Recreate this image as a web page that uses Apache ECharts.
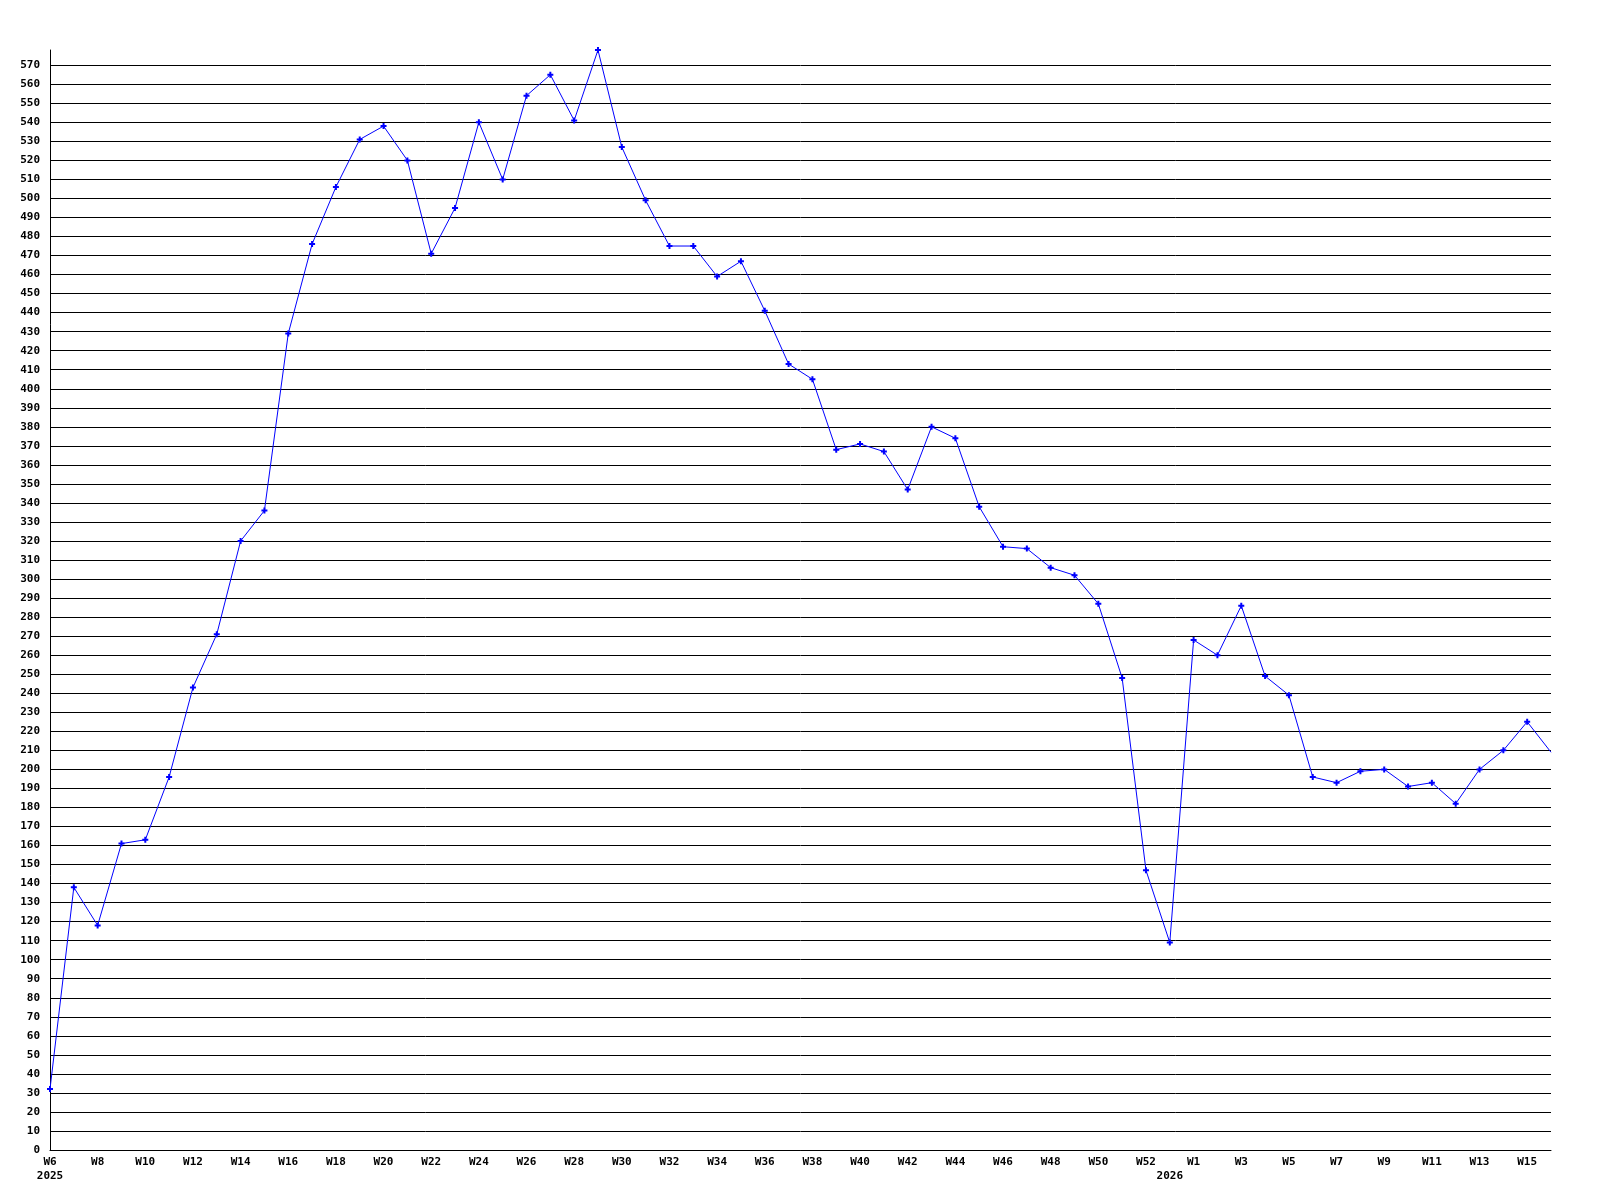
<!DOCTYPE html>
<html>
<head>
<meta charset="utf-8">
<script src="https://cdn.jsdelivr.net/npm/echarts@6/dist/echarts.min.js"></script>
<style>
html,body{margin:0;padding:0;background:#fff;}
#chart{width:1600px;height:1200px;}
</style>
</head>
<body>
<div id="chart"></div>
<script>
// Week categories (2025 then 2026)
const weeks2025 = ['W6','W7','W8','W9','W10','W11','W12','W13','W14','W15','W16','W17','W18','W19','W20','W21','W22','W23','W24','W25','W26','W27','W28','W29','W30','W31','W32','W33','W34','W35','W36','W37','W38','W39','W40','W41','W42','W43','W44','W45','W46','W47','W48','W49','W50','W51','W52','W53'];
const weeks2026 = ['W1','W2','W3','W4','W5','W6','W7','W8','W9','W10','W11','W12','W13','W14','W15','W16'];

// Values
const values2025 = [32,138,118,161,163,196,243,271,320,336,429,476,506,531,538,520,471,495,540,510,554,565,541,578,527,499,475,475,459,467,441,413,405,368,371,367,347,380,374,338,317,316,306,302,287,248,147,109];
const values2026 = [268,260,286,249,239,196,193,199,200,191,193,182,200,210,225,209];

// Tick label rules
const labelEvery = 2;            // week label on every second category
const yearLabels = {0: '2025', 47: '2026'};  // year under these category indices
const yMax = 578;
const yInterval = 10;

const categories = weeks2025.concat(weeks2026);
const values = values2025.concat(values2026);
const lastIdx = values.length - 1;

const font = {fontFamily: 'DejaVu Sans Mono', fontWeight: 'bold', fontSize: 11, color: '#000'};

const chart = echarts.init(document.getElementById('chart'), null, {renderer: 'canvas'});
chart.setOption({
  animation: false,
  backgroundColor: '#ffffff',
  grid: {left: 50, right: 49, top: 50, bottom: 50, containLabel: false},
  xAxis: {
    type: 'category',
    data: categories,
    boundaryGap: false,
    axisLine: {show: true, lineStyle: {color: '#000', width: 1}},
    axisTick: {show: false},
    splitLine: {show: false},
    axisLabel: Object.assign({}, font, {
      interval: 0,
      margin: 5,
      lineHeight: 14,
      align: 'center',
      formatter: function (v, i) {
        const wk = (i % labelEvery === 0) ? v : '';
        const yr = yearLabels[i];
        if (yr !== undefined) return wk + '\n' + yr;
        return wk;
      }
    })
  },
  yAxis: {
    type: 'value',
    min: 0,
    max: yMax,
    interval: yInterval,
    axisLine: {show: true, lineStyle: {color: '#000', width: 1}},
    axisTick: {show: false},
    splitLine: {show: true, showMaxLine: false, lineStyle: {color: '#000', width: 1}},
    axisLabel: Object.assign({}, font, {margin: 10, showMaxLabel: false})
  },
  series: [{
    type: 'line',
    data: values.map((v, i) => i === lastIdx ? {value: v, symbol: 'none'} : v),
    showSymbol: true,
    showAllSymbol: true,
    symbol: 'path://M2,0 L4,0 L4,2 L6,2 L6,4 L4,4 L4,6 L2,6 L2,4 L0,4 L0,2 L2,2 Z',
    symbolSize: 6,
    itemStyle: {color: '#0000ff'},
    lineStyle: {color: '#0000ff', width: 1},
    clip: true
  }]
});
</script>
</body>
</html>
